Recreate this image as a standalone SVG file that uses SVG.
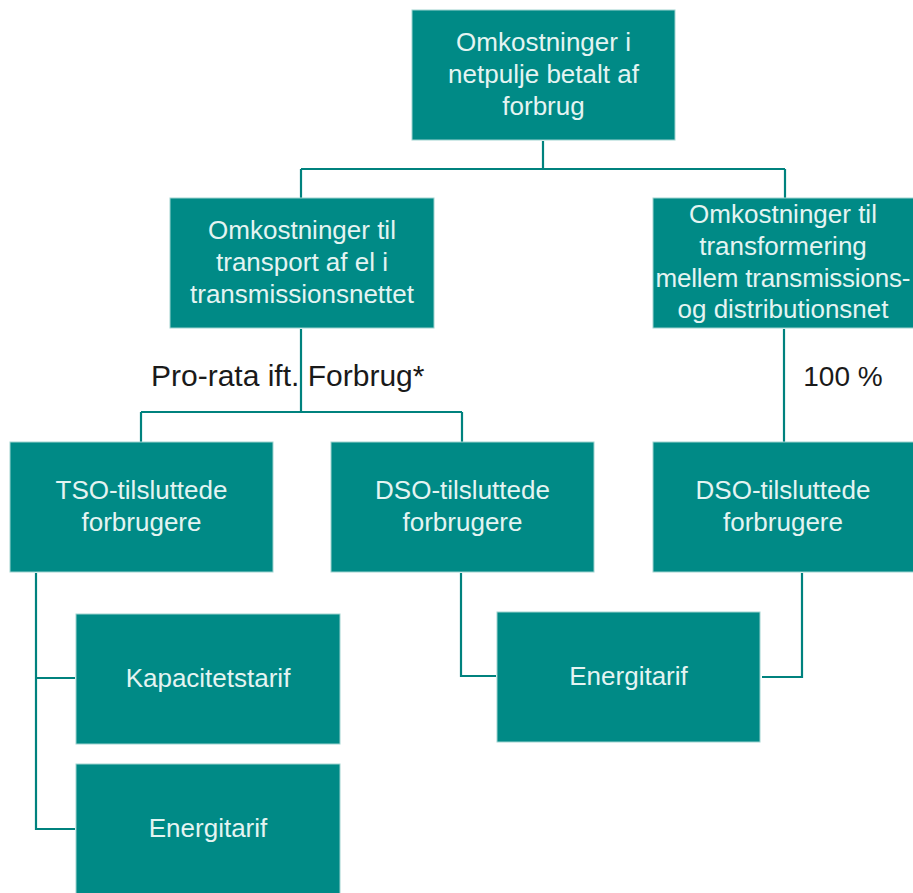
<svg xmlns="http://www.w3.org/2000/svg" width="913" height="893" viewBox="0 0 913 893">
<style>
.box{fill:#008A86;stroke:#9fd3d0;stroke-width:1}
.t{font-family:"Liberation Sans",Arial,sans-serif;font-size:26px;fill:#E4F4F2;text-anchor:middle}
.lbl{font-family:"Liberation Sans",Arial,sans-serif;fill:#1a1a1a}
.c{fill:none;stroke:#00827E;stroke-width:2.2}
</style>
<rect width="913" height="893" fill="#ffffff"/>
<g id="connectors">
<path class="c" d="M543 141V169M301 169H785M301 169V198M785 169V198"/>
<path class="c" d="M301 329V412M141 412H462M141 412V442M462 412V442"/>
<path class="c" d="M784 329V442"/>
<path class="c" d="M36 573V829H75M36 678H75"/>
<path class="c" d="M461 573V676H496"/>
<path class="c" d="M802 573V677H762"/>
</g>
<g id="n-top"><rect class="box" x="412" y="10" width="263" height="130"/>
<text class="t" x="543.5" y="51">Omkostninger i</text><text class="t" x="543.5" y="83">netpulje betalt af</text><text class="t" x="543.5" y="115">forbrug</text></g>
<g id="n-transport"><rect class="box" x="170" y="198" width="264" height="130"/>
<text class="t" x="302" y="239">Omkostninger til</text><text class="t" x="302" y="271">transport af el i</text><text class="t" x="302" y="303">transmissionsnettet</text></g>
<g id="n-transform"><rect class="box" x="653" y="198" width="262" height="130"/>
<text class="t" x="783" y="223">Omkostninger til</text><text class="t" x="783" y="255">transformering</text><text class="t" x="783" y="287" textLength="255">mellem transmissions-</text><text class="t" x="783" y="318">og distributionsnet</text></g>
<g id="l-prorata"><text class="lbl" x="151" y="386" font-size="30">Pro-rata ift. Forbrug*</text></g>
<g id="l-100"><text class="lbl" x="843" y="386" font-size="28" text-anchor="middle">100 %</text></g>
<g id="n-tso"><rect class="box" x="10" y="442" width="263" height="130"/>
<text class="t" x="141.5" y="499">TSO-tilsluttede</text><text class="t" x="141.5" y="531">forbrugere</text></g>
<g id="n-dso1"><rect class="box" x="331" y="442" width="263" height="130"/>
<text class="t" x="462.5" y="499">DSO-tilsluttede</text><text class="t" x="462.5" y="531">forbrugere</text></g>
<g id="n-dso2"><rect class="box" x="653" y="442" width="262" height="130"/>
<text class="t" x="783" y="499">DSO-tilsluttede</text><text class="t" x="783" y="531">forbrugere</text></g>
<g id="n-kap"><rect class="box" x="76" y="614" width="264" height="130"/>
<text class="t" x="208" y="687">Kapacitetstarif</text></g>
<g id="n-energi1"><rect class="box" x="76" y="764" width="264" height="131"/>
<text class="t" x="208" y="837">Energitarif</text></g>
<g id="n-energi2"><rect class="box" x="497" y="612" width="263" height="130"/>
<text class="t" x="628.5" y="685">Energitarif</text></g>
</svg>
